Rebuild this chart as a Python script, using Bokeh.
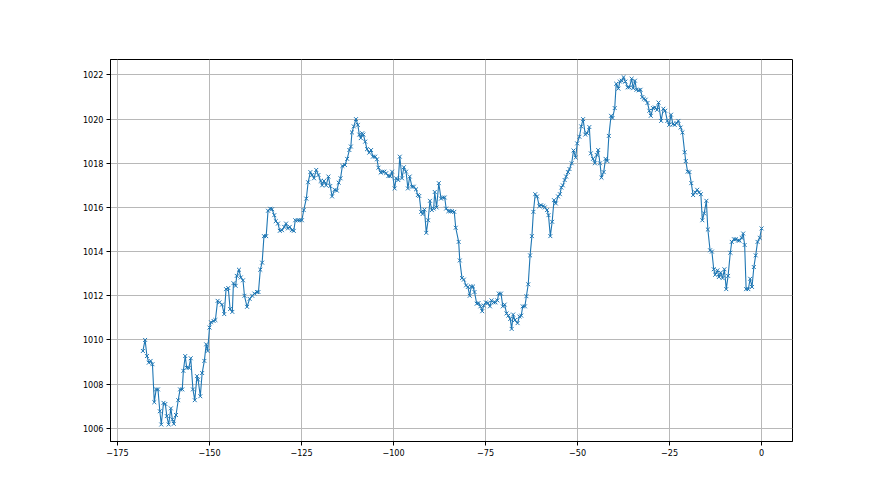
from bokeh.plotting import figure
from bokeh.models import Range1d, FixedTicker
from bokeh.embed import file_html
from bokeh.resources import INLINE

# hours relative to now, and pressure (hPa)
hours = [
    -168.1, -167.5, -167.0, -166.5, -166.0, -165.5, -165.0, -164.5, -164.0, -163.5,
    -163.1, -162.5, -162.0, -161.6, -161.1, -160.5, -160.1, -159.7, -159.1, -158.5,
    -158.0, -157.4, -157.1, -156.6, -156.2, -155.6, -155.1, -154.5, -154.0, -153.4,
    -153.1, -152.5, -152.0, -151.4, -150.9, -150.5, -150.0, -149.6, -148.9, -148.4,
    -147.8, -147.3, -146.6, -146.0, -145.5, -144.9, -144.4, -143.8, -143.5, -142.9,
    -142.6, -142.0, -141.5, -140.9, -140.5, -139.8, -139.1, -138.4, -137.8, -137.1,
    -136.7, -136.2, -135.7, -135.2, -134.6, -134.1, -133.5, -133.0, -132.4, -132.0,
    -131.4, -130.9, -130.3, -129.7, -129.2, -128.7, -128.2, -127.6, -127.1, -126.7,
    -126.0, -125.5, -124.9, -124.4, -123.7, -123.2, -122.6, -122.1, -121.6, -121.0,
    -120.4, -119.8, -119.4, -118.9, -118.3, -117.7, -117.2, -116.7, -116.0, -115.4,
    -114.9, -114.4, -113.9, -113.2, -112.6, -112.0, -111.6, -111.3, -110.8, -110.2,
    -109.7, -109.3, -108.9, -108.5, -108.2, -107.7, -107.2, -106.6, -106.1, -105.6,
    -105.0, -104.5, -104.1, -103.5, -103.0, -102.5, -102.0, -101.4, -100.9, -100.4,
    -99.7, -99.3, -98.7, -98.3, -97.7, -97.2, -96.6, -96.1, -95.6, -95.0,
    -94.5, -93.9, -93.4, -93.0, -92.5, -92.1, -91.6, -91.1, -90.6, -90.1,
    -89.6, -89.1, -88.8, -88.3, -87.7, -87.1, -86.6, -86.1, -85.7, -85.1,
    -84.6, -84.1, -83.5, -83.1, -82.3, -82.0, -81.4, -80.9, -80.3, -79.8,
    -79.3, -78.9, -78.4, -78.0, -77.4, -76.9, -76.4, -75.9, -75.5, -74.9,
    -74.4, -73.8, -73.4, -72.8, -72.3, -71.8, -71.4, -70.8, -70.3, -69.8,
    -69.3, -68.8, -68.3, -67.9, -67.5, -67.0, -66.3, -65.8, -65.3, -64.9,
    -64.3, -63.9, -63.4, -62.9, -62.4, -62.0, -61.5, -61.0, -60.4, -59.9,
    -59.3, -58.9, -58.3, -57.9, -57.4, -56.9, -56.4, -55.9, -55.3, -54.8,
    -54.4, -54.0, -53.5, -53.1, -52.6, -52.2, -51.6, -51.1, -50.5, -50.1,
    -49.5, -49.0, -48.5, -47.9, -47.4, -46.8, -46.4, -45.8, -45.3, -44.8,
    -44.4, -43.9, -43.5, -42.9, -42.4, -41.9, -41.5, -40.9, -40.5, -39.9,
    -39.5, -38.9, -38.5, -38.0, -37.5, -37.0, -36.4, -35.9, -35.3, -34.9,
    -34.4, -34.0, -33.4, -32.9, -32.4, -32.0, -31.5, -31.0, -30.5, -30.1,
    -29.5, -29.0, -28.4, -28.0, -27.3, -26.7, -26.2, -25.6, -25.1, -24.6,
    -24.1, -23.6, -23.1, -22.6, -22.0, -21.5, -20.9, -20.6, -20.1, -19.6,
    -19.1, -18.6, -18.0, -17.5, -17.0, -16.5, -16.1, -15.6, -15.0, -14.6,
    -14.0, -13.5, -13.0, -12.6, -12.0, -11.6, -11.1, -10.6, -10.1, -9.6,
    -9.1, -8.5, -8.1, -7.5, -7.0, -6.4, -6.0, -5.4, -5.0, -4.6,
    -4.2, -3.6, -3.1, -2.6, -2.1, -1.6, -1.1, -0.5, 0.0,
]

pressure = [
    1009.5, 1010.0, 1009.27, 1008.97, 1009.05, 1008.9, 1007.18, 1007.76, 1007.76, 1006.77,
    1006.17, 1007.15, 1007.1, 1006.55, 1006.17, 1006.9, 1006.4, 1006.2, 1006.6, 1007.27,
    1007.76, 1007.76, 1008.6, 1009.27, 1008.74, 1008.74, 1009.17, 1007.76, 1007.27, 1008.36,
    1008.2, 1007.45, 1008.5, 1009.05, 1009.8, 1009.5, 1010.56, 1010.8, 1010.86, 1010.9,
    1011.77, 1011.7, 1011.6, 1011.17, 1012.3, 1012.35, 1011.4, 1011.27, 1012.57, 1012.45,
    1012.9, 1013.18, 1012.83, 1012.7, 1012.0, 1011.5, 1011.86, 1012.0, 1012.1, 1012.17,
    1012.17, 1013.18, 1013.5, 1014.7, 1014.7, 1015.85, 1015.94, 1015.92, 1015.65, 1015.38,
    1015.27, 1014.94, 1014.97, 1015.12, 1015.27, 1015.05, 1015.12, 1014.97, 1014.94, 1015.42,
    1015.42, 1015.42, 1015.42, 1015.88, 1016.4, 1017.14, 1017.6, 1017.47, 1017.32, 1017.7,
    1017.47, 1017.2, 1017.0, 1017.2, 1017.0, 1017.4, 1016.97, 1016.5, 1016.8, 1016.76,
    1017.12, 1017.32, 1017.88, 1017.92, 1018.2, 1018.6, 1018.76, 1019.4, 1019.67, 1020.0,
    1019.74, 1019.3, 1019.14, 1019.36, 1019.3, 1018.98, 1018.64, 1018.48, 1018.6, 1018.3,
    1018.3, 1018.18, 1017.8, 1017.58, 1017.62, 1017.62, 1017.55, 1017.42, 1017.42, 1017.62,
    1016.86, 1017.32, 1017.24, 1018.3, 1017.32, 1017.82, 1017.62, 1016.86, 1017.4, 1016.94,
    1016.94, 1016.82, 1016.56, 1016.52, 1015.8, 1015.7, 1015.9, 1014.85, 1015.42, 1016.3,
    1015.88, 1015.95, 1016.7, 1016.0, 1017.1, 1016.4, 1016.45, 1016.45, 1015.95, 1015.83,
    1015.83, 1015.83, 1015.8, 1015.08, 1014.44, 1013.6, 1012.8, 1012.73, 1012.47, 1012.4,
    1012.0, 1012.42, 1012.42, 1012.17, 1011.64, 1011.67, 1011.52, 1011.3, 1011.56, 1011.7,
    1011.67, 1011.52, 1011.79, 1011.7, 1011.7, 1011.79, 1012.1, 1012.1, 1011.52, 1011.6,
    1011.2, 1011.1, 1010.95, 1010.5, 1011.15, 1010.9, 1010.76, 1011.06, 1011.1, 1011.52,
    1011.52, 1011.98, 1012.52, 1013.83, 1014.7, 1015.8, 1016.6, 1016.5, 1016.06, 1016.1,
    1016.06, 1016.0, 1015.88, 1015.65, 1014.7, 1015.35, 1016.33, 1016.18, 1016.5, 1016.6,
    1016.9, 1017.0, 1017.24, 1017.4, 1017.6, 1017.74, 1018.0, 1018.58, 1018.26, 1018.9,
    1019.2, 1019.67, 1020.0, 1019.3, 1019.36, 1019.64, 1018.45, 1018.2, 1018.0, 1018.38,
    1018.6, 1018.0, 1017.35, 1017.6, 1018.2, 1018.1, 1019.24, 1020.15, 1020.05, 1020.5,
    1021.6, 1021.38, 1021.7, 1021.74, 1021.9, 1021.7, 1021.44, 1021.44, 1021.83, 1021.4,
    1021.74, 1021.33, 1021.3, 1021.33, 1021.0, 1020.92, 1020.88, 1020.73, 1020.38, 1020.15,
    1020.5, 1020.53, 1020.42, 1020.75, 1019.92, 1020.47, 1020.38, 1019.92, 1019.74, 1020.2,
    1019.77, 1019.74, 1019.82, 1019.92, 1019.62, 1019.4, 1018.5, 1018.1, 1017.62, 1017.6,
    1017.1, 1016.56, 1016.68, 1016.8, 1016.68, 1016.6, 1015.42, 1015.73, 1016.3, 1015.0,
    1014.06, 1014.0, 1013.2, 1012.95, 1013.15, 1012.85, 1013.05, 1012.8, 1013.2, 1012.3,
    1012.9, 1013.95, 1014.44, 1014.56, 1014.56, 1014.5, 1014.5, 1014.62, 1014.82, 1014.3,
    1012.3, 1012.3, 1012.77, 1012.4, 1013.3, 1013.83, 1014.44, 1014.62, 1015.05,
]

x_ticks = [-175, -150, -125, -100, -75, -50, -25, 0]
y_ticks = [1006, 1008, 1010, 1012, 1014, 1016, 1018, 1020, 1022]

p = figure(
    width=872, height=487,
    output_backend="svg", toolbar_location=None,
    x_range=Range1d(-176.9, 8.4), y_range=Range1d(1005.4, 1022.7),
    min_border_left=110, min_border_right=80,
    min_border_top=59, min_border_bottom=46,
    background_fill_color="white", border_fill_color="white",
)

p.outline_line_color = "black"
p.outline_line_width = 1

p.line(hours, pressure, line_color="#1f77b4", line_width=1.1)
p.scatter(hours, pressure, marker="x", size=5.5, line_color="#1f77b4", line_width=1)

p.xaxis.ticker = FixedTicker(ticks=x_ticks)
p.yaxis.ticker = FixedTicker(ticks=y_ticks)
p.xaxis.major_label_overrides = {t: (str(t).replace("-", "\u2212")) for t in x_ticks}

for ax in (p.xaxis, p.yaxis):
    ax.axis_line_color = "black"
    ax.major_tick_line_color = "black"
    ax.major_tick_out = 4
    ax.major_tick_in = 0
    ax.minor_tick_line_color = None
    ax.major_label_text_font = "DejaVu Sans Condensed"
    ax.major_label_text_font_size = "9px"
    ax.major_label_text_color = "black"
    ax.major_label_standoff = 3

p.xgrid.grid_line_color = "#b8b8b8"
p.ygrid.grid_line_color = "#b8b8b8"
p.xgrid.grid_line_width = 1
p.ygrid.grid_line_width = 1

open("out.html", "w").write(file_html(p, INLINE))
